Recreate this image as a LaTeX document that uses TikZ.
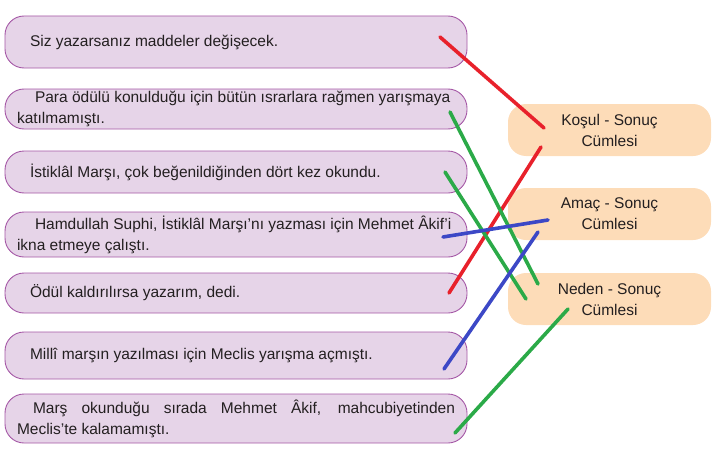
\documentclass[tikz,border=0pt]{standalone}
\usepackage{fontspec}
\setmainfont{Liberation Sans}
\definecolor{lav}{HTML}{E6D4E8}
\definecolor{lavb}{HTML}{A558A6}
\definecolor{peach}{HTML}{FDDCB8}
\definecolor{txt}{HTML}{231F20}
\definecolor{lred}{HTML}{E8212B}
\definecolor{lgreen}{HTML}{2BAA48}
\definecolor{lblue}{HTML}{3C48C6}
\begin{document}
\begin{tikzpicture}[x=1pt,y=-1pt,
  lbox/.style={draw=lavb,line width=0.9pt,fill=lav,rounded corners=19pt,
    minimum width=462pt,text width=438pt,inner xsep=12pt,inner ysep=0pt,
    align=justify,text=txt,font=\fontsize{15.5}{21}\selectfont},
  rbox/.style={fill=peach,rounded corners=18pt,minimum width=203pt,minimum height=52pt,
    align=center,text=txt,font=\fontsize{15.5}{21}\selectfont},
  conn/.style={line width=3.6pt,line cap=round}]
\useasboundingbox (0,0) rectangle (722,452);
\node[lbox,minimum height=52pt] (L1) at (236,42) {\hspace*{13pt}Siz yazarsanız maddeler değişecek.};
\node[lbox,minimum height=40pt] (L2) at (236,109) {\hspace*{18pt}Para ödülü konulduğu için bütün ısrarlara rağmen yarışmaya\\katılmamıştı.};
\node[lbox,minimum height=42pt] (L3) at (236,172) {\hspace*{13pt}İstiklâl Marşı, çok beğenildiğinden dört kez okundu.};
\node[lbox,minimum height=45pt] (L4) at (236,234.5) {\hspace*{18pt}Hamdullah Suphi, İstiklâl Marşı’nı yazması için Mehmet Âkif’i\\ikna etmeye çalıştı.};
\node[lbox,minimum height=40pt] (L5) at (236,293) {\hspace*{13pt}Ödül kaldırılırsa yazarım, dedi.};
\node[lbox,minimum height=47pt] (L6) at (236,355.5) {\hspace*{13pt}Millî marşın yazılması için Meclis yarışma açmıştı.};
\node[lbox,minimum height=49pt] (L7) at (236,418.5) {\hspace*{16pt}Marş okunduğu sırada Mehmet Âkif, mahcubiyetinden\linebreak Meclis’te kalamamıştı.};
\node[rbox] (K) at (609.5,130) {Koşul - Sonuç\\Cümlesi};
\node[rbox] (A) at (609.5,214) {Amaç - Sonuç\\Cümlesi};
\node[rbox] (N) at (609.5,299) {Neden - Sonuç\\Cümlesi};
% connector end points
\coordinate (r1a) at (440,37);  \coordinate (r1b) at (544,128);
\coordinate (r2a) at (541,147); \coordinate (r2b) at (449,293);
\coordinate (g1a) at (450,112); \coordinate (g1b) at (538,284);
\coordinate (g2a) at (445,172); \coordinate (g2b) at (526,299);
\coordinate (b1a) at (443,237); \coordinate (b1b) at (548,220);
\coordinate (b2a) at (538,232); \coordinate (b2b) at (444,369);
\coordinate (g3a) at (568,309); \coordinate (g3b) at (455,433);
\draw[conn,lred] (r1a) -- (r1b);
\draw[conn,lred] (r2a) -- (r2b);
\draw[conn,lgreen] (g1a) -- (g1b);
\draw[conn,lgreen] (g2a) -- (g2b);
\draw[conn,lblue] (b1a) -- (b1b);
\draw[conn,lblue] (b2a) -- (b2b);
\draw[conn,lgreen] (g3a) -- (g3b);
\end{tikzpicture}
\end{document}
